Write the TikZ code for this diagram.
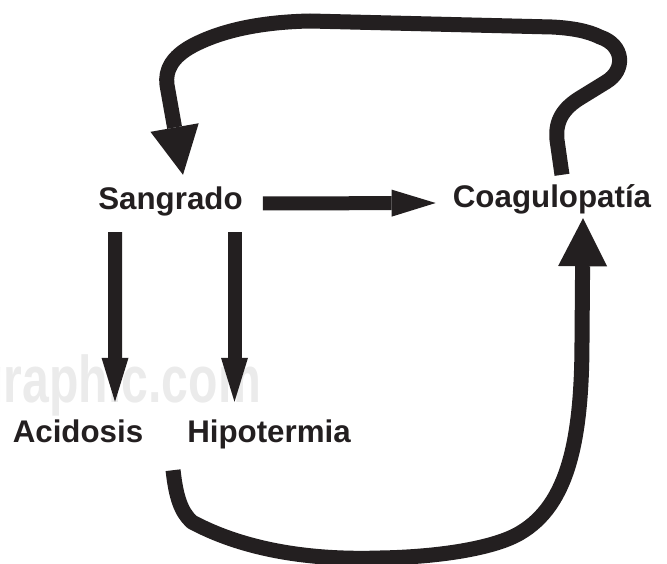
\documentclass[tikz,border=0pt]{standalone}
\usepackage{fontspec}
\setmainfont{Liberation Sans}
\usetikzlibrary{arrows.meta,calc}
\definecolor{ink}{HTML}{231F20}
\definecolor{wm}{HTML}{EBEBEB}
\begin{document}
\begin{tikzpicture}[x=1pt,y=-1pt,
  lbl/.style={font=\bfseries\fontsize{31.3}{36}\selectfont, text=ink, inner sep=0pt,
              text height=22pt, text depth=7pt, anchor=base},
  wmark/.style={font=\bfseries\fontsize{66}{70}\selectfont, text=wm, inner sep=0pt, anchor=base east, xscale=0.73},
  straightarrow/.style={draw=ink, line width=14pt,
              -{Triangle[length=44pt,width=27pt,line width=0pt]}},
  looparrow/.style={draw=ink, line width=15pt, line join=round,
              -{Triangle[length=48pt,width=49pt,line width=0pt]}},
]
\useasboundingbox (0,0) rectangle (667,564);

\node[wmark] (wmk) at (261,402) {graphic.com};

\node[lbl] (sang) at (170.5,210) {Sangrado};
\node[lbl] (coag) at (552,208) {Coagulopatía};
\node[lbl] (acid) at (78,442) {Acidosis};
\node[lbl] (hipo) at (269,442) {Hipotermia};

% Sangrado -> Coagulopatia
\draw[straightarrow] ($(sang.east)+(20,1)$) -- ($(coag.west)+(-17,2.5)$);
% Sangrado -> Acidosis
\draw[straightarrow] ($(sang.south west)+(17,15)$) -- ($(acid.north)+(37,-18)$);
% Sangrado -> Hipotermia
\draw[straightarrow] ($(sang.south)+(64,15)$) -- ($(hipo.north)+(-34.5,-18)$);

% Hipotermia -> Coagulopatia (bottom loop)
\draw[looparrow] ($(hipo.south west)+(-14,21)$)
  .. controls (176,497) and (181,512) .. (192,522)
  .. controls (250,553) and (320,560) .. (380,558)
  .. controls (440,557) and (495,548) .. (520,533)
  .. controls (568,505) and (582,440) .. (582,340)
  -- ($(coag.south)+(31,3)$);

% Coagulopatia -> Sangrado (top loop)
\draw[looparrow] ($(coag.north)+(10,-11)$) -- (557,140)
  .. controls (555,120) and (564,108) .. (580,98)
  -- (606,82)
  .. controls (626,70) and (624,45) .. (600,37)
  .. controls (588,31) and (572,28) .. (552,27)
  -- (310,21)
  .. controls (262,22) and (222,30) .. (192,46)
  .. controls (172,57) and (165,70) .. (167,85)
  -- ($(sang.north)+(12.5,-13)$);
\end{tikzpicture}
\end{document}
